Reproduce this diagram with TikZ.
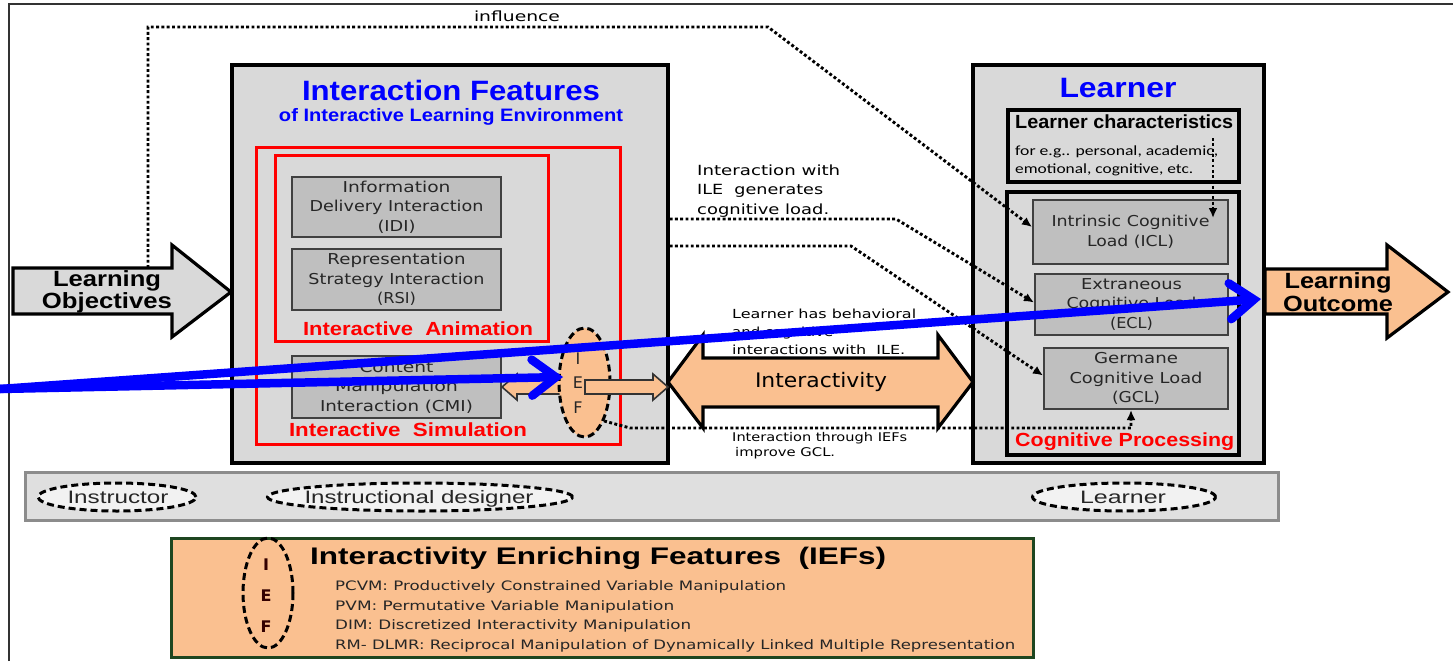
\documentclass[tikz,border=0pt]{standalone}
\usepackage{fontspec}
\usepackage{graphicx}
\setmainfont{Liberation Sans}
\newfontfamily\tahfont{DejaVu Sans}
\newfontfamily\arifont{Liberation Sans}
\newfontfamily\calfont{Carlito}
\usetikzlibrary{arrows.meta,shapes.geometric}
\definecolor{lgray}{HTML}{D9D9D9}
\definecolor{bgray}{HTML}{BFBFBF}
\definecolor{bandgray}{HTML}{DFDFDF}
\definecolor{ellgray}{HTML}{F2F2F2}
\definecolor{peach}{HTML}{FAC090}
\definecolor{dgreen}{HTML}{1E4620}
\newcommand\W[2]{\resizebox{#1pt}{\height}{#2}}
\begin{document}
\begin{tikzpicture}[x=1pt,y=-1pt,
  bigbox/.style={draw=black, line width=3.2pt, fill=lgray, inner sep=0pt},
  framebox/.style={draw=black, line width=3.2pt, inner sep=0pt},
  redbox/.style={draw=red, line width=3pt, inner sep=0pt},
  ibox/.style={draw=black!75, line width=2pt, fill=bgray, inner sep=0pt, align=center, text=black!85, font=\tahfont\fontsize{15}{19.5}\selectfont},
  dotline/.style={line width=2.9pt, dash pattern=on 2.9pt off 2.4pt, -{Latex[length=10pt,width=9pt]}},
  blockarrow/.style={draw=black, line width=3.2pt, line join=miter},
  dashell/.style={ellipse, draw=black, line width=3pt, dash pattern=on 7pt off 4pt, inner sep=0pt},
  bluearr/.style={draw=blue, line width=8.5pt, line cap=round, -{Straight Barb[length=24pt,width=36pt,line cap=round]}},
  txt/.style={inner sep=0pt, align=center},
  ltxt/.style={inner sep=0pt, align=left, anchor=west}
]
\useasboundingbox (0,0) rectangle (1453,661);
% outer frame lines
\draw[line width=2.2pt, black!80] (9,661) -- (9,4) -- (1453,4);

\coordinate (inflstart) at (148,268);
\node[txt, font=\tahfont\fontsize{14}{16}\selectfont] (infl) at (517,16) {\W{86}{influence}};

% Interaction Features box
\node[bigbox, minimum width=436pt, minimum height=398pt] (IF) at (450,264) {};
\node[txt, text=blue, font=\arifont\bfseries\fontsize{28}{30}\selectfont] (IFt) at (451,90) {\W{298}{Interaction Features}};
\node[txt, text=blue, font=\arifont\bfseries\fontsize{18}{20}\selectfont] (IFs) at (451,117) {\W{344}{of Interactive Learning Environment}};
\node[redbox, minimum width=364pt, minimum height=297pt] (sim) at (438,295.5) {};
\node[redbox, minimum width=273pt, minimum height=186pt] (anim) at (411.5,248) {};
\node[ibox, minimum width=209pt, minimum height=60pt] (IDI) at (396.5,207) {\W{108}{Information}\\\W{174}{Delivery Interaction}\\\W{38}{(IDI)}};
\node[ibox, minimum width=209pt, minimum height=61pt] (RSI) at (396.5,279.5) {\W{138}{Representation}\\\W{176}{Strategy Interaction}\\\W{39}{(RSI)}};
\node[txt, text=red, font=\arifont\bfseries\fontsize{19}{21}\selectfont] (animt) at (418,329) {\W{230}{Interactive\ \ Animation}};
\node[ibox, minimum width=209pt, minimum height=62pt] (CMI) at (396.5,387) {\W{74}{Content}\\\W{123}{Manipulation}\\\W{153}{Interaction (CMI)}};
\node[txt, text=red, font=\arifont\bfseries\fontsize{19}{21}\selectfont] (simt) at (408,430) {\W{238}{Interactive\ \ Simulation}};

% Learner box
\node[bigbox, minimum width=291pt, minimum height=398pt] (LB) at (1118.5,264) {};
\node[txt, text=blue, font=\arifont\bfseries\fontsize{28}{30}\selectfont] (LBt) at (1118,88) {\W{117}{Learner}};
\node[framebox, minimum width=231pt, minimum height=72pt] (LC) at (1123.5,146) {};
\node[ltxt, font=\arifont\bfseries\fontsize{19}{21}\selectfont] (LCt) at (1015,122) {\W{218}{Learner characteristics}};
\node[ltxt, font=\calfont\fontsize{14}{18}\selectfont] (LCs) at (1015,161) {\W{203}{for e.g.. personal, academic,}\\\W{178}{emotional, cognitive, etc.}};
\node[framebox, minimum width=232pt, minimum height=263pt] (CP) at (1123,323.5) {};
\node[ibox, minimum width=195pt, minimum height=64pt] (ICL) at (1130.5,232) {\W{158}{Intrinsic Cognitive}\\\W{87}{Load (ICL)}};
\node[ibox, minimum width=193pt, minimum height=61pt] (ECL) at (1131.5,304.5) {\W{101}{Extraneous}\\\W{130}{Cognitive Load}\\\W{43}{(ECL)}};
\node[ibox, minimum width=184pt, minimum height=61pt] (GCL) at (1136,378.5) {\W{84}{Germane}\\\W{133}{Cognitive Load}\\\W{48}{(GCL)}};
\node[ltxt, text=red, font=\arifont\bfseries\fontsize{19}{21}\selectfont] (CPt) at (1015,442) {\W{219}{Cognitive Processing}};

% Learning objectives arrow
\draw[blockarrow, fill=lgray] (13,268) -- (172,268) -- (172,245) -- (231,292) -- (172,337) -- (172,314) -- (13,314) -- cycle;
\node[txt, font=\arifont\bfseries\fontsize{22}{22.5}\selectfont] (LO) at (107,292) {\W{108}{Learning}\\\W{130}{Objectives}};
% Learning outcome arrow
\draw[blockarrow, fill=peach] (1265,269) -- (1387,269) -- (1387,245) -- (1448,292) -- (1387,338) -- (1387,314) -- (1265,314) -- cycle;
\node[txt, font=\arifont\bfseries\fontsize{22}{23}\selectfont] (LOut) at (1338,292) {\W{107}{Learning}\\\W{110}{Outcome}};

% Interactivity double arrow
\draw[blockarrow, fill=peach] (668,382) -- (703,335) -- (703,358) -- (938,358) -- (938,335) -- (973,382) -- (938,428) -- (938,407) -- (703,407) -- (703,428) -- cycle;
\node[txt, font=\tahfont\fontsize{20}{22}\selectfont] (IAt) at (821,382) {\W{132}{Interactivity}};

% texts around
\node[ltxt, font=\tahfont\fontsize{14}{19.5}\selectfont] (gen) at (697,191) {\W{143}{Interaction with}\\\W{126}{ILE\ \ generates}\\\W{132}{cognitive load.}};
\node[ltxt, font=\tahfont\fontsize{12.5}{18}\selectfont] (beh) at (732,332) {\W{184}{Learner has behavioral}\\\W{101}{and cognitive}\\\W{173}{interactions with\ \ ILE.}};
\node[ltxt, font=\tahfont\fontsize{12}{15}\selectfont] (imp) at (732,445.5) {\W{175}{Interaction through IEFs}\\\hspace{3pt}\W{100}{improve GCL.}};

% small arrows and IEF ellipse
\draw[line width=1.6pt, fill=peach, draw=black!80, line join=miter] (502,387) -- (517,374) -- (517,380) -- (572,380) -- (572,394) -- (517,394) -- (517,400) -- cycle;
\node[dashell, fill=peach, minimum width=51pt, minimum height=109pt] (IEF) at (584.5,382.5) {};
\node[txt, text=black!85, font=\tahfont\fontsize{16}{24.5}\selectfont] (IEFt) at (578,383) {I\\E\\F};
\draw[line width=1.6pt, fill=peach, draw=black!80, line join=miter] (585,380) -- (653,380) -- (653,374) -- (668,387) -- (653,400) -- (653,394) -- (585,394) -- cycle;

% dotted connectors
\draw[dotline] (inflstart) -- (148,27) -- (768,27) -- ([yshift=5pt]ICL.west);
\draw[dotline] ([yshift=45pt]IF.east) -- (896,219) -- ([yshift=2pt]ECL.west);
\draw[dotline] ([yshift=18pt]IF.east) -- (851,246) -- ([yshift=3pt]GCL.west);
\draw[dotline] (IEF.-63) -- (630,428) -- (1131,428) -- ([xshift=-5pt]GCL.south);
\coordinate (lcdot) at (1213,138);
\coordinate (lcdotend) at (1213,218);
\draw[dotline] (lcdot) -- (lcdotend);

% bottom band
\node[draw=black!45, line width=3pt, fill=bandgray, minimum width=1253pt, minimum height=48pt, inner sep=0pt] (band) at (651.5,496) {};
\node[dashell, fill=ellgray, minimum width=158pt, minimum height=28pt] (e1) at (117,497) {};
\node[txt, anchor=base, text=black!85, font=\arifont\fontsize{18}{20}\selectfont] (e1t) at (118,503.5) {\W{101}{Instructor}};
\node[dashell, fill=ellgray, minimum width=305pt, minimum height=28pt] (e2) at (420,497) {};
\node[txt, anchor=base, text=black!85, font=\arifont\fontsize{18}{20}\selectfont] (e2t) at (419,503.5) {\W{229}{Instructional designer}};
\node[dashell, fill=ellgray, minimum width=183pt, minimum height=28pt] (e3) at (1124,497) {};
\node[txt, anchor=base, text=black!85, font=\arifont\fontsize{18}{20}\selectfont] (e3t) at (1123,503.5) {\W{86}{Learner}};

% legend
\node[draw=dgreen, line width=3pt, fill=peach, minimum width=862pt, minimum height=119pt, inner sep=0pt] (leg) at (602,597.5) {};
\node[dashell, minimum width=50pt, minimum height=110pt] (legE) at (268,593) {};
\node[txt, text=black!80!red, font=\tahfont\bfseries\fontsize{16}{31}\selectfont] (legEt) at (266,596) {I\\E\\F};
\node[ltxt, font=\arifont\bfseries\fontsize{24}{26}\selectfont] (legt) at (310,558) {\W{576}{Interactivity Enriching Features\ \ (IEFs)}};
\node[ltxt, font=\tahfont\fontsize{13}{19.7}\selectfont, text=black!85] (legi) at (335,616.5) {\W{451}{PCVM: Productively Constrained Variable Manipulation}\\\W{339}{PVM: Permutative Variable Manipulation}\\\W{356}{DIM: Discretized Interactivity Manipulation}\\\W{680}{RM- DLMR: Reciprocal Manipulation of Dynamically Linked Multiple Representation}};

% blue overlay arrows
\coordinate (bstart) at (0,389);
\coordinate (bend1) at (563,377);
\coordinate (bend2) at (1261,299);
\draw[bluearr] (bstart) -- (bend1);
\draw[bluearr] (bstart) -- (bend2);
\end{tikzpicture}
\end{document}
